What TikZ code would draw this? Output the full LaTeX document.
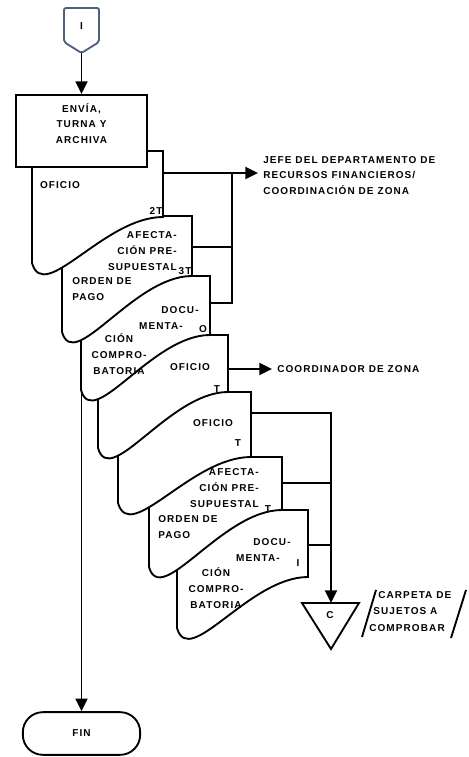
\documentclass[tikz,border=0pt]{standalone}
\usepackage{fontspec}
\newfontfamily\flowfont{Liberation Sans}[LetterSpace=11]
\usetikzlibrary{arrows.meta, backgrounds}
\definecolor{conblue}{RGB}{78,98,128}
\tikzset{
  txt/.style={font=\flowfont\bfseries\fontsize{7.5}{12}\selectfont, inner sep=0pt},
  docline/.style={draw, fill=white, line width=1.4pt},
  conn/.style={line width=1.4pt},
  flow/.style={line width=1.4pt, -{Triangle[width=9pt,length=9.5pt]}},
  procbox/.style={draw, fill=white, line width=1.4pt, minimum width=98pt, minimum height=54pt, align=center, font=\flowfont\bfseries\fontsize{7.5}{11.6}\selectfont},
  termbox/.style={draw, fill=white, line width=1.4pt, rounded corners=15pt, minimum width=88pt, minimum height=32pt, font=\flowfont\bfseries\fontsize{7.5}{11.6}\selectfont},
  pics/docu/.style n args={4}{code={
    \draw[docline] (0,0) -- (#1,0) -- (#1,#2)
      .. controls ({0.55*#1},#2) and (12,{#3+42}) .. (0,#3) -- cycle;
    \coordinate (-out) at (#1,#4);
  }}
}

\begin{document}
\begin{tikzpicture}[x=0.75pt, y=-0.75pt]
\useasboundingbox (0,0) rectangle (468,757);
% Connector from previous page
\draw[conblue, line width=1.4pt, rounded corners=1.5pt] (64,8) -- (99,8) -- (99,42) -- (81.5,53) -- (64,42) -- cycle;
\node[txt] (conI) at (81.5,26) {I};
\coordinate (conIpt) at (81.5,53);
% Documents, back to front
\pic (docG) at (177,510) {docu={131}{67}{118}{35}};
\pic (docF) at (149,457) {docu={133}{53}{110}{26}};
\pic (docE) at (118,392) {docu={133}{65}{111}{21}};
\pic (docD) at (98,335) {docu={130}{57}{113}{34}};
\pic (docC) at (81,276) {docu={129}{59}{114}{27}};
\pic (docB) at (62,216) {docu={130}{60}{116}{31}};
\pic (docA) at (32,151) {docu={131}{66}{112}{22}};
% Process and end
\node[procbox] (envia) at (81.5,131) {ENVÍA,\\TURNA Y\\ARCHIVA\\\mbox{}};
\node[termbox] (fin) at (81.5,733.5) {FIN};
\draw[flow] (conIpt) -- (envia);
\begin{pgfonlayer}{background}
\draw[flow] (envia) -- (fin);
\end{pgfonlayer}
% First set of documents
\node[txt] (tA1) at (60,185) {OFICIO};
\node[txt] (cA) at (156,211) {2T};
\node[txt, anchor=east, align=right] (tB1) at (177,251) {AFECTA-\\CIÓN PRE-\\SUPUESTAL};
\node[txt] (cB) at (185,271) {3T};
\node[txt, anchor=west, align=left] (tB2) at (72,289.5) {ORDEN DE\\PAGO};
\node[txt] (tC1) at (180,310) {DOCU-};
\node[txt] (tC2) at (161,326) {MENTA-};
\node[txt] (cC) at (203,329) {O};
\node[txt, align=center] (tC3) at (119,354.5) {CIÓN\\COMPRO-\\BATORIA};
% Second set of documents
\node[txt] (tD1) at (190,367) {OFICIO};
\node[txt] (cD) at (217,389) {T};
\node[txt] (tE1) at (213,423) {OFICIO};
\node[txt] (cE) at (238,443) {T};
\node[txt, anchor=east, align=right] (tF1) at (259,488) {AFECTA-\\CIÓN PRE-\\SUPUESTAL};
\node[txt] (cF) at (268,509) {T};
\node[txt, anchor=west, align=left] (tF2) at (158,527) {ORDEN DE\\PAGO};
\node[txt] (tG1) at (272,542) {DOCU-};
\node[txt] (tG2) at (258,558) {MENTA-};
\node[txt] (cG) at (298,563) {I};
\node[txt, align=center] (tG3) at (216,588) {CIÓN\\COMPRO-\\BATORIA};
% Destinations
\node[txt, anchor=west, align=left, inner xsep=3.75pt, font=\flowfont\bfseries\fontsize{7.5}{11.6}\selectfont] (jefe) at (258,175.5) {JEFE DEL DEPARTAMENTO DE\\RECURSOS FINANCIEROS/\\COORDINACIÓN DE ZONA};
\node[txt, anchor=west, inner xsep=3.75pt] (coord) at (272,369) {COORDINADOR DE ZONA};
\draw[flow] (docA-out) -- (docA-out -| jefe.west);
\coordinate (busA) at (232,173);
\draw[conn] (docC-out) -| (busA);
\draw[conn] (docB-out) -- (docB-out -| busA);
\draw[flow] (docD-out) -- (coord.west);
% File
\coordinate (trtop) at (331,603);
\draw[conn, fill=white] (302,603) -- (359,603) -- (331,649) -- cycle;
\node[txt] (tC) at (330,615) {C};
\draw[flow] (docE-out) -| (trtop);
\draw[conn] (docF-out) -- (docF-out -| trtop);
\draw[conn] (docG-out) -- (docG-out -| trtop);
\draw[conn] (376,590) -- (362,637);
\draw[conn] (466,590) -- (451,638);
\node[txt, anchor=west] (carp1) at (378,595) {CARPETA DE};
\node[txt, anchor=west] (carp2) at (373,611) {SUJETOS A};
\node[txt, anchor=west] (carp3) at (369,628) {COMPROBAR};
\end{tikzpicture}
\end{document}
